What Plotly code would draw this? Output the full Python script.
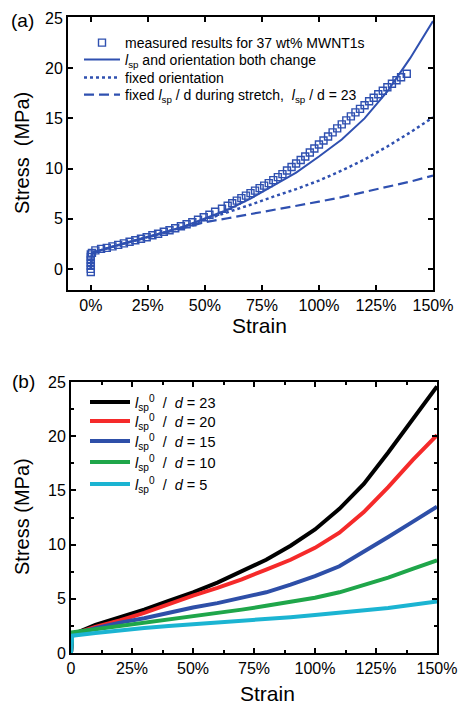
import plotly.graph_objects as go

W, H = 461, 705

# ---------------- Panel (a) data ----------------
meas_strain = [0.0, 0.0, 0.0, 0.0, 0.0, 0.0, 0.0, 0.005, 0.02, 0.045, 0.07, 0.095, 0.12, 0.145,
               0.17, 0.195, 0.22, 0.245, 0.27, 0.295, 0.32, 0.345, 0.37, 0.395, 0.42, 0.445,
               0.47, 0.495, 0.52, 0.545, 0.575,
               0.60, 0.62, 0.64, 0.66, 0.68, 0.70, 0.72, 0.74, 0.76, 0.78, 0.80, 0.82, 0.84,
               0.86, 0.88, 0.90, 0.92, 0.94, 0.96, 0.98, 1.00, 1.02, 1.04, 1.06, 1.08, 1.10,
               1.12, 1.14, 1.16, 1.18, 1.20, 1.22, 1.24, 1.26, 1.28, 1.30, 1.32, 1.34, 1.36,
               1.385]
meas_stress = [-0.3, 0.0, 0.3, 0.6, 0.9, 1.2, 1.45, 1.6, 1.85, 2.0, 2.1, 2.25, 2.4, 2.55,
               2.7, 2.85, 3.0, 3.15, 3.35, 3.5, 3.7, 3.85, 4.05, 4.25, 4.45, 4.65,
               4.9, 5.15, 5.4, 5.7, 6.0,
               6.3, 6.55, 6.8, 7.05, 7.3, 7.55, 7.8, 8.05, 8.3, 8.55, 8.85, 9.15, 9.45,
               9.8, 10.15, 10.5, 10.85, 11.2, 11.6, 12.0, 12.4, 12.8, 13.2, 13.6, 14.0, 14.4,
               14.8, 15.2, 15.6, 15.95, 16.3, 16.7, 17.05, 17.4, 17.75, 18.1, 18.45, 18.8, 19.1,
               19.45]

model_strain = [0.0, 0.005, 0.1, 0.2, 0.3, 0.4, 0.5, 0.6, 0.7, 0.8, 0.9, 1.0, 1.1, 1.2, 1.3, 1.4, 1.5]
both_change = [0.0, 1.6, 2.25, 2.85, 3.5, 4.15, 5.0, 5.9, 7.0, 8.3, 9.6, 11.2, 12.9, 15.0, 17.7, 21.0, 24.7]
fixed_orient = [0.0, 1.6, 2.25, 2.85, 3.5, 4.15, 4.9, 5.6, 6.4, 7.2, 7.95, 8.8, 9.8, 10.9, 12.2, 13.6, 15.1]
fixed_lsp = [0.0, 1.6, 2.25, 2.85, 3.5, 4.1, 4.65, 5.05, 5.45, 5.85, 6.25, 6.7, 7.15, 7.65, 8.15, 8.7, 9.3]

# ---------------- Panel (b) data ----------------
b_strain = [0.0, 0.005, 0.1, 0.2, 0.3, 0.4, 0.5, 0.6, 0.7, 0.8, 0.9, 1.0, 1.1, 1.2, 1.3, 1.4, 1.5]
b_d23 = [0.0, 1.7, 2.6, 3.3, 4.0, 4.8, 5.6, 6.5, 7.5, 8.6, 9.9, 11.4, 13.3, 15.6, 18.5, 21.5, 24.6]
b_d20 = [0.0, 1.7, 2.4, 3.0, 3.7, 4.5, 5.3, 6.0, 6.8, 7.7, 8.6, 9.7, 11.1, 13.0, 15.3, 17.8, 20.1]
b_d15 = [0.0, 1.7, 2.3, 2.8, 3.2, 3.7, 4.2, 4.6, 5.1, 5.6, 6.3, 7.1, 8.0, 9.3, 10.7, 12.1, 13.5]
b_d10 = [0.0, 1.9, 2.2, 2.5, 2.8, 3.05, 3.35, 3.65, 4.0, 4.35, 4.7, 5.1, 5.6, 6.25, 6.95, 7.75, 8.55]
b_d5 = [0.0, 1.6, 1.85, 2.1, 2.3, 2.5, 2.65, 2.8, 2.95, 3.1, 3.3, 3.5, 3.7, 3.9, 4.15, 4.45, 4.75]

b_labels = ["23", "20", "15", "10", "5"]
b_colors = ["#000000", "#F52A2A", "#2E4FA8", "#1FA64A", "#1BB4D2"]

x_ticks = [0, 0.25, 0.5, 0.75, 1.0, 1.25, 1.5]
x_ticktext_a = ["0%", "25%", "50%", "75%", "100%", "125%", "150%"]
x_ticktext_b = ["0", "25%", "50%", "75%", "100%", "125%", "150%"]
y_ticks = [0, 5, 10, 15, 20, 25]

BLUE = "#2F50B0"
FONT = "Liberation Sans, Arial, sans-serif"

# legend row centres (pixels from top) -- layout only
rows_a = [43, 60, 78, 95]
rows_b = [402, 421, 441, 462, 484]

fig = go.Figure()

fig.add_trace(go.Scatter(
    x=meas_strain, y=meas_stress, mode="markers", xaxis="x", yaxis="y",
    marker=dict(symbol="square-open", size=7, color=BLUE, line=dict(width=1.4, color=BLUE)),
    name="measured results for 37 wt% MWNT1s", legend="legend"))
fig.add_trace(go.Scatter(
    x=model_strain, y=both_change, mode="lines", xaxis="x", yaxis="y",
    line=dict(color=BLUE, width=2),
    name="<i>l</i><sub>sp</sub> and orientation both change", legend="legend2"))
fig.add_trace(go.Scatter(
    x=model_strain, y=fixed_orient, mode="lines", xaxis="x", yaxis="y",
    line=dict(color=BLUE, width=2.5, dash="dot"),
    name="fixed orientation", legend="legend3"))
fig.add_trace(go.Scatter(
    x=model_strain, y=fixed_lsp, mode="lines", xaxis="x", yaxis="y",
    line=dict(color=BLUE, width=2.2, dash="10px,5px"),
    name="fixed <i>l</i><sub>sp</sub> / d during stretch,  <i>l</i><sub>sp</sub> / d = 23",
    legend="legend4"))

for i, (lab, col, ys) in enumerate(zip(b_labels, b_colors, [b_d23, b_d20, b_d15, b_d10, b_d5])):
    fig.add_trace(go.Scatter(
        x=b_strain, y=ys, mode="lines", xaxis="x2", yaxis="y2",
        line=dict(color=col, width=4),
        name="<i>l</i><sub>sp</sub><sup>0</sup>  /  <i>d</i> = " + lab, legend="legend%d" % (5 + i)))

axis_common = dict(showline=True, linewidth=2, linecolor="black", mirror="ticks",
                   ticks="inside", ticklen=5, tickwidth=1.5, tickcolor="black",
                   showgrid=False, zeroline=False, automargin=False,
                   tickfont=dict(family=FONT, size=16, color="black"))

layout = dict(
    width=W, height=H, margin=dict(l=0, r=0, t=0, b=0, autoexpand=False),
    autosize=False,
    paper_bgcolor="white", plot_bgcolor="white",
    font=dict(family=FONT, color="black"),
    xaxis=dict(domain=[68 / W, 433 / W], range=[-0.1, 1.5], anchor="y",
               tickvals=x_ticks, ticktext=x_ticktext_a, **axis_common),
    yaxis=dict(domain=[1 - 290 / H, 1 - 17 / H], range=[-2.1, 25.1], anchor="x",
               tickvals=y_ticks, **axis_common),
    xaxis2=dict(domain=[71 / W, 437 / W], range=[0, 1.5], anchor="y2",
                tickvals=x_ticks, ticktext=x_ticktext_b,
                minor=dict(ticks="inside", ticklen=3, tickwidth=1.5, dtick=0.125, tick0=0,
                           tickcolor="black"),
                **axis_common),
    yaxis2=dict(domain=[1 - 653 / H, 1 - 382 / H], range=[0, 25], anchor="x2",
                tickvals=y_ticks,
                minor=dict(ticks="inside", ticklen=3, tickwidth=1.5, dtick=2.5, tick0=0,
                           tickcolor="black"),
                **axis_common),
    showlegend=True,
)

for i, r in enumerate(rows_a):
    key = "legend" if i == 0 else "legend%d" % (i + 1)
    layout[key] = dict(x=79 / W, y=1 - r / H, xanchor="left", yanchor="middle",
                       bgcolor="rgba(0,0,0,0)", borderwidth=0, itemwidth=36,
                       font=dict(family=FONT, size=14, color="black"))
for i, r in enumerate(rows_b):
    layout["legend%d" % (5 + i)] = dict(x=85 / W, y=1 - r / H, xanchor="left", yanchor="middle",
                                       bgcolor="rgba(0,0,0,0)", borderwidth=0, itemwidth=40,
                                       font=dict(family=FONT, size=14.5, color="black"))

fig.update_layout(**layout)

def ann(text, x, y, size, angle=0):
    fig.add_annotation(text=text, x=x / W, y=1 - y / H, xref="paper", yref="paper",
                       showarrow=False, xanchor="center", yanchor="middle",
                       textangle=angle, font=dict(family=FONT, size=size, color="black"))

ann("(a)", 22, 20, 19)
ann("Strain", 259, 325, 21)
ann("Stress  (MPa)", 22, 153, 20, -90)
ann("(b)", 23, 381, 19)
ann("Strain", 267, 693, 21)
ann("Stress (MPa)", 22, 517, 20, -90)

fig.write_html("out.html", config={"responsive": False})
